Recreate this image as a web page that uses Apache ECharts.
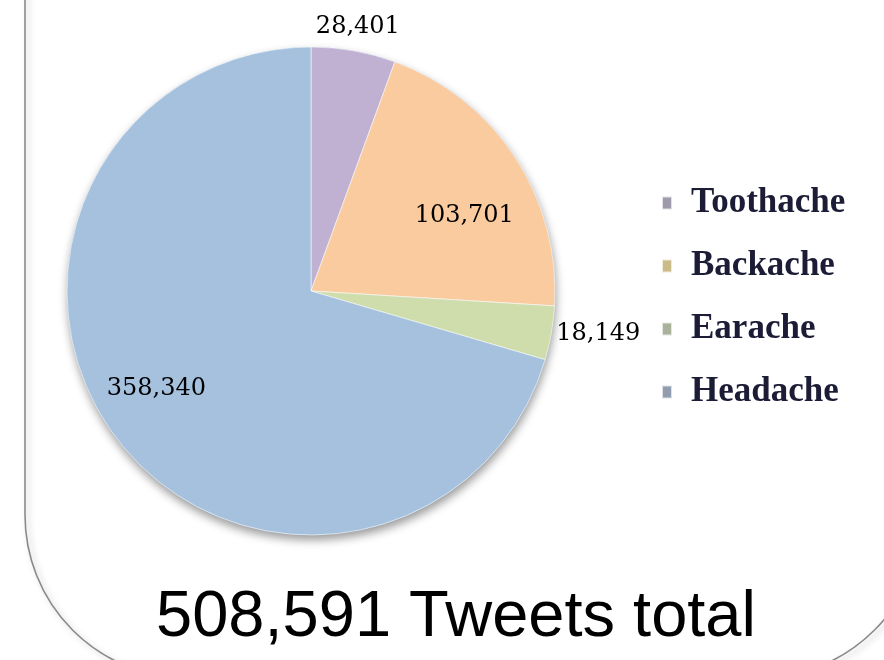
<!DOCTYPE html>
<html>
<head>
<meta charset="utf-8">
<style>
  html, body { margin: 0; padding: 0; background: #ffffff; }
  #chart { width: 884px; height: 660px; }
</style>
<script src="https://cdn.jsdelivr.net/npm/echarts@6/dist/echarts.min.js"></script>
</head>
<body>
<div id="chart"></div>
<script>
// Tweets per ache type
const categories = ['Toothache', 'Backache', 'Earache', 'Headache'];
const tweetCounts = [28401, 103701, 18149, 358340];
const totalLabel = '508,591 Tweets total';

const sliceColors = ['#C0B1D3', '#FACB9F', '#CEDDAB', '#A5C1DE'];
const legendSwatches = ['#a09bac', '#cbbb88', '#abb29c', '#929cb0'];

const CX = 311, CY = 291, R = 244;
// where each value label sits: fraction of the radius and angular nudge (deg)
const labelPlacement = [
  { ratio: 1.10, shift: 0 },
  { ratio: 0.70, shift: 7 },
  { ratio: 1.19, shift: -1.5 },
  { ratio: 0.75, shift: 4.5 }
];

const total = tweetCounts.reduce((a, b) => a + b, 0);
const midAngles = [];
let acc = 0;
tweetCounts.forEach(v => {
  midAngles.push((acc + v / 2) / total * 360);
  acc += v;
});

const chart = echarts.init(document.getElementById('chart'), null, { renderer: 'canvas' });

chart.setOption({
  animation: false,
  backgroundColor: '#ffffff',
  legend: {
    orient: 'vertical',
    left: 661,
    top: 183,
    padding: 0,
    itemGap: 23,
    itemWidth: 10,
    itemHeight: 13,
    icon: 'rect',
    selectedMode: false,
    textStyle: {
      fontFamily: 'Liberation Serif',
      fontWeight: 'bold',
      fontSize: 35,
      lineHeight: 40,
      color: '#1c1c36',
      padding: [0, 0, 0, 14]
    },
    data: categories.map((name, i) => ({
      name: name,
      itemStyle: { color: legendSwatches[i] }
    }))
  },
  graphic: [
    {
      type: 'rect',
      z: -10,
      silent: true,
      shape: { x: 25, y: -200, width: 897, height: 878, r: 163 },
      style: {
        fill: 'none',
        stroke: '#8a8a8a',
        lineWidth: 1.6,
        shadowBlur: 6,
        shadowOffsetX: 3,
        shadowOffsetY: 3,
        shadowColor: 'rgba(0,0,0,0.25)'
      }
    },
    {
      type: 'text',
      x: 456,
      y: 618,
      silent: true,
      style: {
        text: totalLabel,
        fontFamily: 'Liberation Sans, Arial, sans-serif',
        fontSize: 65,
        fill: '#000000',
        textAlign: 'center',
        textVerticalAlign: 'middle'
      }
    }
  ],
  series: [
    {
      // soft drop shadow under the whole pie
      type: 'pie',
      silent: true,
      z: 1,
      center: [CX, CY],
      radius: [0, R],
      label: { show: false },
      labelLine: { show: false },
      itemStyle: {
        color: '#A5C1DE',
        shadowBlur: 10,
        shadowOffsetY: 5,
        shadowOffsetX: 1,
        shadowColor: 'rgba(0,0,0,0.4)'
      },
      data: [{ name: 'all', value: total }]
    },
    {
      type: 'pie',
      z: 2,
      center: [CX, CY],
      radius: [0, R],
      startAngle: 90,
      clockwise: true,
      avoidLabelOverlap: false,
      itemStyle: {
        borderColor: 'rgba(255,255,255,0.7)',
        borderWidth: 0.8
      },
      label: {
        show: true,
        position: 'inside',
        fontFamily: 'DejaVu Serif',
        fontSize: 24,
        color: '#000000',
        formatter: p => p.value.toLocaleString('en-US')
      },
      labelLine: { show: false },
      labelLayout: function (params) {
        const i = params.dataIndex;
        const place = labelPlacement[i];
        const a = (midAngles[i] + place.shift) * Math.PI / 180;
        const d = R * place.ratio;
        const tx = CX + d * Math.sin(a);
        const ty = CY - d * Math.cos(a);
        const r = params.labelRect;
        return {
          dx: tx - (r.x + r.width / 2),
          dy: ty - (r.y + r.height / 2)
        };
      },
      data: categories.map((name, i) => ({
        name: name,
        value: tweetCounts[i],
        itemStyle: { color: sliceColors[i] }
      }))
    }
  ]
});
</script>
</body>
</html>
